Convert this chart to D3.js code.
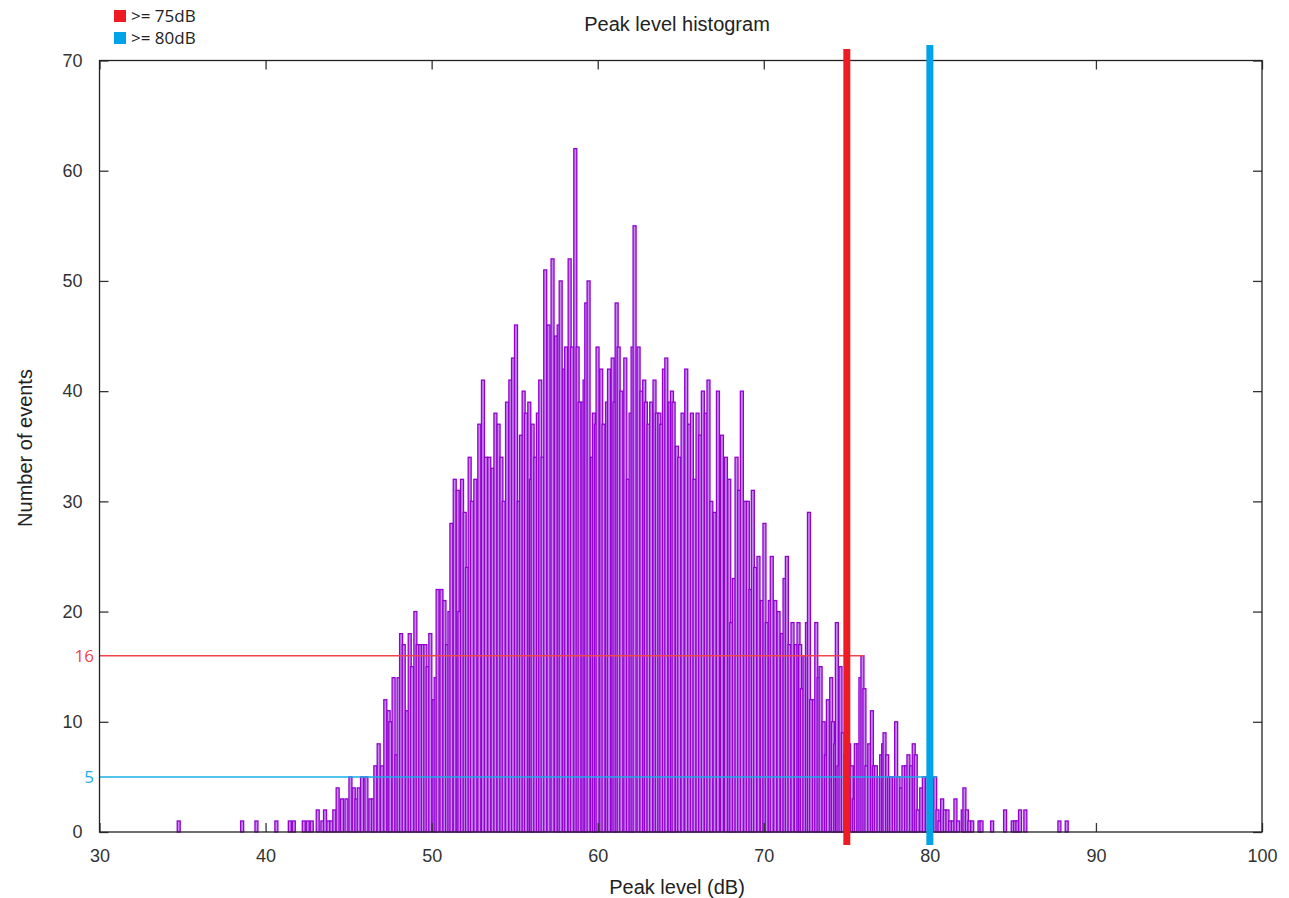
<!doctype html>
<html lang='en'>
<head>
    <meta charset='utf-8'>
    <title>Peak level histogram</title>
    <script src='https://cdn.jsdelivr.net/npm/d3@7/dist/d3.min.js'></script>
    <style>
        body { margin: 0; background: white; }
        .tick text { font-family: 'Liberation Sans', Arial, sans-serif; font-size: 18px; fill: #333; }
        .tick line { stroke: #333; stroke-width: 1.3px; }
        .frame { fill: none; stroke: #222; stroke-width: 1.3px; }
        .bar { fill: #c48ae8; stroke: #9400d3; stroke-width: 1.3px; }
        .label { font-family: 'Liberation Sans', Arial, sans-serif; font-size: 20px; fill: #222; }
        .legend { font-family: 'Open Sans', sans-serif; font-size: 17px; fill: #222; }
    </style>
</head>
<body>
<div id='chart'></div>
<script>
    // peak level (dB) of each histogram box
    const peakLevels = [
        34.77, 38.59, 39.45, 40.65, 41.46, 41.70, 42.30, 42.54, 42.78, 43.14, 43.42, 43.58, 43.78,
        43.96, 44.14, 44.34, 44.60, 44.87, 45.11, 45.31, 45.47, 45.61, 45.81, 46.07, 46.31, 46.47,
        46.61, 46.81, 47.01, 47.21, 47.41, 47.51, 47.71, 47.88, 48.01, 48.16, 48.32, 48.52, 48.68,
        48.82, 49.02, 49.16, 49.32, 49.47, 49.62, 49.76, 49.92, 50.12, 50.24, 50.36,
        50.59, 50.77, 50.93, 51.07, 51.19, 51.39, 51.57, 51.67, 51.83, 51.99, 52.13, 52.29, 52.43,
        52.63, 52.87, 53.09, 53.27, 53.47, 53.67, 53.84, 54.03, 54.20, 54.34, 54.54, 54.74, 54.90,
        55.08, 55.24, 55.38, 55.54, 55.68, 55.88, 55.98, 56.08, 56.24, 56.40, 56.54, 56.68, 56.84,
        57.04, 57.28, 57.49, 57.65,
        57.77, 57.98, 58.10, 58.31, 58.45, 58.65, 58.79, 58.91, 59.09, 59.21, 59.31, 59.45, 59.65,
        59.77, 59.89, 59.99, 60.21, 60.35, 60.56, 60.68, 60.90, 61.01, 61.14, 61.26, 61.42, 61.66,
        61.82, 61.98, 62.10, 62.22, 62.46, 62.63, 62.80, 62.90, 63.06, 63.22, 63.42, 63.56, 63.71,
        63.83, 63.99, 64.13, 64.33, 64.47, 64.57, 64.77, 64.91,
        65.11, 65.33, 65.51, 65.67, 65.83, 66.01, 66.17, 66.33, 66.51, 66.67, 66.84, 67.04, 67.24,
        67.48, 67.72, 67.92, 68.04, 68.20, 68.36, 68.52, 68.68, 68.88, 69.04, 69.20, 69.34, 69.48,
        69.68, 69.88, 70.04, 70.18, 70.36, 70.48, 70.69, 70.89, 71.09, 71.25, 71.39, 71.55, 71.73,
        71.93, 72.09,
        72.19, 72.29, 72.45, 72.60, 72.72, 72.85, 73.02, 73.16, 73.30, 73.42, 73.60, 73.74, 73.86,
        74.06, 74.16, 74.30, 74.40, 74.50, 74.62, 74.76, 74.92, 75.14, 75.30, 75.42, 75.54, 75.70,
        75.82, 75.94, 76.06, 76.18, 76.35, 76.51, 76.63, 76.75, 76.91, 77.07, 77.19, 77.27, 77.43,
        77.55, 77.67, 77.83, 77.97, 78.11, 78.27, 78.41, 78.57, 78.71, 78.87, 79.03, 79.15, 79.27,
        79.48, 79.64, 79.82, 80.00,
        80.32, 80.46, 80.58, 80.74, 80.90, 81.06, 81.22, 81.38, 81.54, 81.70, 81.98, 82.08, 82.23,
        82.38, 82.55, 82.99, 83.11, 83.75, 84.53, 84.99, 85.13, 85.27, 85.43, 85.75, 87.80, 88.24
    ];

    // number of events in each box, same order as peakLevels
    const eventCounts = [
        1, 1, 1, 1, 1, 1, 1, 1, 1, 2, 1, 2, 1,
        1, 2, 4, 3, 3, 5, 4, 3, 4, 5, 5, 3, 3,
        6, 8, 6, 12, 11, 10, 14, 7, 14, 18, 17, 11, 18,
        15, 20, 17, 17, 17, 17, 15, 18, 12, 14, 22,
        22, 21, 17, 20, 28, 32, 31, 20, 32, 29, 24, 34, 30,
        32, 37, 41, 34, 34, 33, 38, 37, 34, 30, 39, 41, 43,
        46, 30, 36, 40, 38, 39, 32, 37, 34, 38, 41, 34, 51,
        46, 52, 45, 46,
        50, 42, 44, 52, 44, 62, 44, 39, 39, 41, 48, 50, 34,
        38, 37, 44, 42, 37, 39, 42, 43, 39, 48, 44, 40, 43,
        32, 38, 44, 55, 44, 40, 41, 39, 37, 39, 41, 38, 38,
        37, 42, 43, 39, 40, 39, 35, 34,
        38, 42, 37, 38, 32, 38, 36, 40, 38, 41, 30, 29, 40,
        36, 34, 32, 19, 23, 34, 31, 40, 30, 30, 22, 31, 24,
        25, 21, 28, 19, 21, 25, 21, 20, 18, 23, 25, 17, 19,
        17, 19,
        17, 13, 16, 19, 29, 12, 12, 19, 14, 15, 10, 7, 12,
        14, 10, 8, 19, 6, 15, 9, 7, 8, 6, 3, 8, 8,
        14, 16, 13, 6, 8, 11, 6, 6, 5, 7, 8, 9, 7,
        5, 5, 5, 10, 5, 4, 6, 6, 7, 6, 8, 7, 2,
        4, 5, 5, 3,
        5, 2, 1, 3, 2, 2, 1, 1, 3, 1, 2, 4, 2,
        1, 1, 1, 1, 1, 2, 1, 1, 1, 2, 2, 1, 1
    ];

    const xTicks = [30, 40, 50, 60, 70, 80, 90, 100];
    const yTicks = [0, 10, 20, 30, 40, 50, 60, 70];

    // thresholds: vertical markers and the count reached at each one
    const thresholdLevels = [75, 80];
    const thresholdCounts = [16, 5];
    const thresholdEnds = [76.03, 80.41];
    const thresholdNames = ['>= 75dB', '>= 80dB'];
    const thresholdColors = ['#ed1c24', '#00a2e8'];
    const guideColors = ['#f0464b', '#1aaee6'];

    const boxWidth = 0.18;

    const width = 1289, height = 898;
    const plotLeft = 99.5, plotRight = 1262, plotTop = 60.5, plotBottom = 832;

    const svg = d3.select('#chart').append('svg')
        .attr('width', width)
        .attr('height', height);

    const x = d3.scaleLinear().domain([30, 100]).range([plotLeft, plotRight]);
    const y = d3.scaleLinear().domain([0, 70]).range([plotBottom, plotTop]);

    const bars = peakLevels.map((d, i) => ({level: d, count: eventCounts[i]}));

    svg.append('g')
        .selectAll('rect')
        .data(bars)
        .enter()
        .append('rect')
        .classed('bar', true)
        .attr('x', d => x(d.level - boxWidth / 2))
        .attr('y', d => y(d.count))
        .attr('width', d => x(d.level + boxWidth / 2) - x(d.level - boxWidth / 2))
        .attr('height', d => y(0) - y(d.count));

    // horizontal guides at the counts reached by the thresholds
    svg.append('g')
        .selectAll('line')
        .data(thresholdCounts)
        .enter()
        .append('line')
        .attr('x1', x(30))
        .attr('x2', (d, i) => x(thresholdEnds[i]))
        .attr('y1', d => y(d))
        .attr('y2', d => y(d))
        .style('stroke', (d, i) => guideColors[i])
        .style('stroke-width', 1.5);

    svg.append('g')
        .selectAll('text')
        .data(thresholdCounts)
        .enter()
        .append('text')
        .classed('legend', true)
        .attr('x', 94)
        .attr('y', d => y(d))
        .attr('dy', '0.36em')
        .attr('text-anchor', 'end')
        .style('fill', (d, i) => guideColors[i])
        .text(d => d);

    // axes: ticks point inwards and are mirrored on the top and right
    svg.append('g')
        .attr('transform', `translate(0,${plotBottom})`)
        .call(d3.axisBottom(x).tickValues(xTicks).tickSize(-9).tickPadding(17));
    svg.append('g')
        .attr('transform', `translate(0,${plotTop})`)
        .call(d3.axisTop(x).tickValues(xTicks).tickSize(-9).tickFormat(''));
    svg.append('g')
        .attr('transform', `translate(${plotLeft},0)`)
        .call(d3.axisLeft(y).tickValues(yTicks).tickSize(-9).tickPadding(17));
    svg.append('g')
        .attr('transform', `translate(${plotRight},0)`)
        .call(d3.axisRight(y).tickValues(yTicks).tickSize(-9).tickFormat(''));

    svg.selectAll('.domain').remove();
    svg.selectAll('.tick text').attr('font-family', null).attr('font-size', null);
    svg.selectAll('.tick line').attr('stroke', null);

    svg.append('rect')
        .classed('frame', true)
        .attr('x', plotLeft)
        .attr('y', plotTop)
        .attr('width', plotRight - plotLeft)
        .attr('height', plotBottom - plotTop);

    // thick threshold markers
    svg.append('g')
        .selectAll('line')
        .data(thresholdLevels)
        .enter()
        .append('line')
        .attr('x1', d => x(d))
        .attr('x2', d => x(d))
        .attr('y1', (d, i) => i === 0 ? 49 : 45)
        .attr('y2', 845)
        .style('stroke', (d, i) => thresholdColors[i])
        .style('stroke-width', 7);

    // legend
    const legend = svg.append('g')
        .selectAll('g')
        .data(thresholdNames)
        .enter()
        .append('g')
        .attr('transform', (d, i) => `translate(114,${10 + i * 22})`);
    legend.append('rect')
        .attr('width', 12)
        .attr('height', 12)
        .style('fill', (d, i) => thresholdColors[i]);
    legend.append('text')
        .classed('legend', true)
        .attr('x', 17)
        .attr('y', 12)
        .text(d => d);

    svg.append('text')
        .classed('label', true)
        .attr('x', 677)
        .attr('y', 31)
        .attr('text-anchor', 'middle')
        .text('Peak level histogram');

    svg.append('text')
        .classed('label', true)
        .attr('x', 677)
        .attr('y', 894)
        .attr('text-anchor', 'middle')
        .text('Peak level (dB)');

    svg.append('text')
        .classed('label', true)
        .attr('transform', 'translate(32,448) rotate(-90)')
        .attr('text-anchor', 'middle')
        .text('Number of events');
</script>
</body>
</html>
